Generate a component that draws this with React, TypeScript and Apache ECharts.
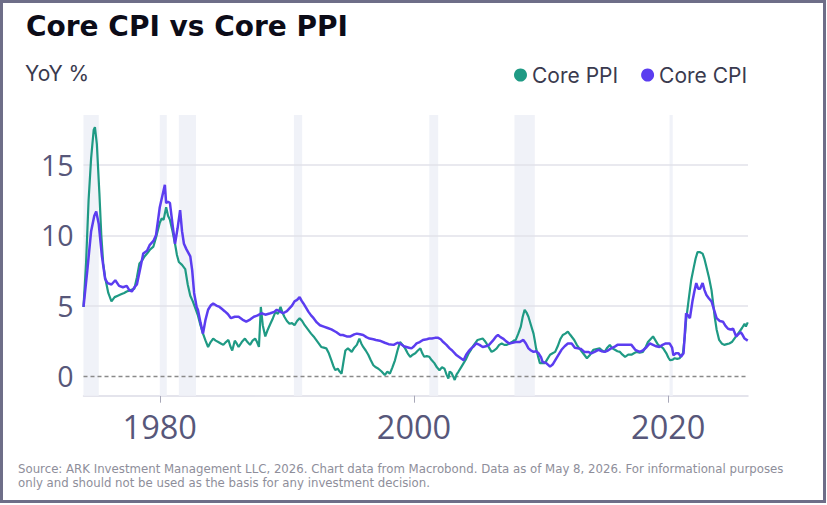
import React, { useEffect, useRef } from "react";
import * as echarts from "echarts";

const title = "Core CPI vs Core PPI";
const unitLabel = "YoY %";
const footLines = [
  "Source: ARK Investment Management LLC, 2026. Chart data from Macrobond. Data as of May 8, 2026. For informational purposes",
  "only and should not be used as the basis for any investment decision.",
];
const seriesNames = ["Core PPI", "Core CPI"];

const xTicks = [1980, 2000, 2020];
const yTicks = [0, 5, 10, 15];
const gridValues = [5, 10, 15];
const zeroValue = 0;

const recessionStarts = [1974.0, 1980.0, 1981.5, 1990.55, 2001.2, 2007.9, 2020.1];
const recessionEnds = [1975.2, 1980.55, 1982.85, 1991.2, 2001.9, 2009.5, 2020.35];

const ppiPoints: [number, number][] = [
  [1974.0, 4.9], [1974.2, 8.0], [1974.4, 12.5], [1974.6, 15.5], [1974.8, 17.5], [1974.9, 17.7],
  [1975.05, 16.5], [1975.25, 13.0], [1975.4, 10.0], [1975.55, 8.0], [1975.7, 7.0], [1975.95, 5.9],
  [1976.2, 5.3], [1976.45, 5.6], [1976.7, 5.7], [1976.95, 5.8], [1977.2, 5.9], [1977.4, 6.0],
  [1977.7, 6.1], [1978.0, 6.2], [1978.2, 7.0], [1978.4, 8.0], [1978.6, 8.2], [1978.8, 8.5],
  [1979.0, 8.7], [1979.25, 9.0], [1979.5, 9.2], [1979.75, 10.0], [1980.0, 10.9], [1980.15, 11.2],
  [1980.3, 11.1], [1980.5, 12.0], [1980.65, 11.4], [1980.8, 11.1], [1981.0, 10.3], [1981.2, 9.4],
  [1981.35, 8.6], [1981.5, 8.1], [1981.75, 7.9], [1982.0, 7.6], [1982.2, 6.5], [1982.4, 5.7],
  [1982.6, 5.3], [1982.8, 4.8], [1983.0, 4.3], [1983.2, 3.6], [1983.4, 3.0], [1983.6, 2.5],
  [1983.8, 2.05], [1984.0, 2.4], [1984.2, 2.65], [1984.4, 2.5], [1984.6, 2.4], [1984.8, 2.3],
  [1985.0, 2.2], [1985.2, 2.4], [1985.4, 2.55], [1985.55, 2.1], [1985.7, 1.8], [1985.9, 2.5],
  [1986.05, 2.3], [1986.2, 2.05], [1986.45, 2.4], [1986.7, 2.65], [1986.9, 2.4], [1987.1, 2.2],
  [1987.3, 2.5], [1987.5, 2.65], [1987.65, 2.4], [1987.8, 2.05], [1987.95, 4.9], [1988.1, 3.6],
  [1988.3, 2.8], [1988.5, 3.3], [1988.7, 3.7], [1988.9, 4.1], [1989.1, 4.55], [1989.3, 4.4],
  [1989.5, 4.9], [1989.65, 4.5], [1989.8, 4.2], [1990.0, 3.9], [1990.2, 3.7], [1990.4, 3.75],
  [1990.6, 3.6], [1990.8, 3.9], [1991.0, 4.1], [1991.2, 3.9], [1991.4, 3.6], [1991.65, 3.3],
  [1991.9, 3.0], [1992.1, 2.8], [1992.3, 2.55], [1992.5, 2.3], [1992.7, 2.05], [1992.9, 2.0],
  [1993.1, 1.95], [1993.3, 1.6], [1993.5, 1.1], [1993.65, 0.7], [1993.8, 0.4], [1994.0, 0.5],
  [1994.15, 0.3], [1994.3, 0.15], [1994.45, 1.0], [1994.6, 1.8], [1994.8, 1.95], [1995.1, 1.7],
  [1995.3, 2.0], [1995.5, 2.2], [1995.7, 2.65], [1995.85, 2.3], [1996.0, 2.05], [1996.2, 1.8],
  [1996.4, 1.5], [1996.6, 1.1], [1996.8, 0.75], [1997.0, 0.6], [1997.2, 0.5], [1997.45, 0.3],
  [1997.7, 0.05], [1997.9, 0.3], [1998.1, 0.15], [1998.3, 0.6], [1998.5, 1.1], [1998.7, 1.8],
  [1998.9, 2.4], [1999.1, 2.2], [1999.3, 1.95], [1999.5, 1.6], [1999.7, 1.35], [1999.9, 1.5],
  [2000.1, 1.6], [2000.3, 1.8], [2000.5, 1.95], [2000.65, 1.6], [2000.8, 1.35], [2001.0, 1.4],
  [2001.2, 1.35], [2001.4, 1.1], [2001.6, 0.9], [2001.8, 0.6], [2002.0, 0.4], [2002.2, 0.6],
  [2002.4, 0.5], [2002.55, 0.1], [2002.7, -0.2], [2002.8, 0.3], [2002.95, 0.2], [2003.1, -0.1],
  [2003.2, -0.3], [2003.35, 0.1], [2003.5, 0.3], [2003.7, 0.6], [2003.9, 0.9], [2004.1, 1.2],
  [2004.3, 1.6], [2004.45, 1.8], [2004.6, 2.05], [2004.8, 2.3], [2005.0, 2.55], [2005.2, 2.6],
  [2005.4, 2.65], [2005.55, 2.5], [2005.7, 2.3], [2005.9, 2.0], [2006.1, 1.7], [2006.3, 1.8],
  [2006.5, 1.95], [2006.7, 2.2], [2006.9, 2.3], [2007.1, 2.2], [2007.3, 2.2], [2007.5, 2.3],
  [2007.7, 2.4], [2007.85, 2.5], [2008.0, 2.55], [2008.2, 3.0], [2008.4, 3.5], [2008.55, 4.2],
  [2008.7, 4.7], [2008.85, 4.5], [2009.0, 4.2], [2009.2, 3.6], [2009.4, 3.0], [2009.5, 2.5],
  [2009.6, 1.95], [2009.75, 1.4], [2009.9, 0.9], [2010.1, 0.9], [2010.3, 0.9], [2010.5, 1.2],
  [2010.7, 1.5], [2010.9, 1.6], [2011.1, 1.7], [2011.3, 2.1], [2011.5, 2.6], [2011.7, 2.9],
  [2011.9, 3.0], [2012.1, 3.15], [2012.3, 2.9], [2012.6, 2.55], [2012.8, 2.2], [2013.0, 1.95],
  [2013.3, 1.6], [2013.6, 1.25], [2013.85, 1.5], [2014.1, 1.85], [2014.35, 1.9], [2014.6, 1.95],
  [2014.8, 1.8], [2015.0, 1.7], [2015.2, 2.0], [2015.4, 2.2], [2015.6, 1.95], [2015.8, 1.85],
  [2016.0, 1.75], [2016.2, 1.7], [2016.4, 1.5], [2016.6, 1.35], [2016.85, 1.5], [2017.1, 1.5],
  [2017.3, 1.6], [2017.5, 1.7], [2017.75, 1.65], [2018.0, 1.7], [2018.2, 2.0], [2018.4, 2.4],
  [2018.6, 2.6], [2018.8, 2.8], [2019.0, 2.5], [2019.2, 2.2], [2019.4, 2.1], [2019.6, 1.95],
  [2019.85, 1.6], [2020.0, 1.3], [2020.15, 1.1], [2020.35, 1.15], [2020.5, 1.25], [2020.7, 1.2],
  [2020.9, 1.25], [2021.15, 1.6], [2021.3, 2.8], [2021.4, 3.95], [2021.6, 5.4], [2021.8, 6.8],
  [2022.0, 7.7], [2022.15, 8.35], [2022.3, 8.8], [2022.5, 8.8], [2022.7, 8.7], [2022.85, 8.3],
  [2023.0, 7.75], [2023.2, 7.0], [2023.4, 6.1], [2023.55, 5.0], [2023.65, 4.2], [2023.8, 3.3],
  [2024.0, 2.55], [2024.2, 2.3], [2024.4, 2.2], [2024.6, 2.25], [2024.8, 2.3], [2025.0, 2.4],
  [2025.2, 2.65], [2025.4, 2.9], [2025.6, 3.15], [2025.8, 3.4], [2026.0, 3.7], [2026.1, 3.5],
  [2026.25, 3.8],
];

const cpiPoints: [number, number][] = [
  [1974.0, 4.9], [1974.3, 7.5], [1974.6, 10.3], [1974.85, 11.4], [1975.0, 11.7], [1975.2, 10.8],
  [1975.45, 8.5], [1975.7, 6.9], [1975.9, 6.6], [1976.2, 6.5], [1976.5, 6.8], [1976.8, 6.4],
  [1977.1, 6.3], [1977.4, 6.4], [1977.6, 6.1], [1977.8, 6.0], [1978.0, 6.3], [1978.2, 6.5],
  [1978.5, 7.8], [1978.7, 8.7], [1979.0, 8.9], [1979.2, 9.3], [1979.5, 9.6], [1979.7, 10.0],
  [1979.85, 11.0], [1980.0, 12.0], [1980.2, 12.8], [1980.4, 13.6], [1980.5, 12.3], [1980.65, 12.4],
  [1980.8, 12.3], [1981.0, 10.8], [1981.2, 9.4], [1981.4, 10.5], [1981.6, 11.8], [1981.75, 10.3],
  [1981.9, 9.4], [1982.1, 9.0], [1982.4, 8.5], [1982.55, 7.5], [1982.7, 5.9], [1982.9, 4.9],
  [1983.0, 4.7], [1983.2, 3.8], [1983.4, 3.0], [1983.6, 4.0], [1983.8, 4.7], [1984.0, 5.0],
  [1984.2, 5.15], [1984.45, 5.0], [1984.7, 4.9], [1984.9, 4.75], [1985.1, 4.6], [1985.35, 4.4],
  [1985.6, 4.1], [1985.9, 4.2], [1986.2, 4.2], [1986.5, 4.0], [1986.8, 3.85], [1987.1, 4.0],
  [1987.4, 4.2], [1987.7, 4.3], [1988.0, 4.45], [1988.3, 4.35], [1988.7, 4.45], [1989.0, 4.55],
  [1989.2, 4.7], [1989.5, 4.55], [1989.7, 4.45], [1990.0, 4.6], [1990.2, 4.8], [1990.4, 5.0],
  [1990.6, 5.3], [1990.8, 5.4], [1991.0, 5.6], [1991.15, 5.35], [1991.3, 5.15], [1991.5, 4.85],
  [1991.7, 4.55], [1991.9, 4.3], [1992.1, 4.1], [1992.35, 3.8], [1992.6, 3.6], [1992.9, 3.5],
  [1993.2, 3.4], [1993.5, 3.3], [1993.9, 3.1], [1994.2, 2.9], [1994.4, 2.9], [1994.7, 2.8],
  [1995.0, 2.8], [1995.3, 2.95], [1995.5, 3.0], [1995.75, 2.95], [1996.0, 2.9], [1996.25, 2.75],
  [1996.5, 2.65], [1996.8, 2.6], [1997.0, 2.55], [1997.3, 2.5], [1997.7, 2.35], [1998.0, 2.25],
  [1998.4, 2.2], [1998.7, 2.35], [1998.9, 2.3], [1999.2, 2.1], [1999.4, 2.05], [1999.6, 2.0],
  [1999.8, 1.95], [2000.0, 2.1], [2000.2, 2.3], [2000.45, 2.4], [2000.7, 2.55], [2001.0, 2.6],
  [2001.2, 2.65], [2001.4, 2.65], [2001.65, 2.7], [2001.9, 2.7], [2002.1, 2.6], [2002.3, 2.4],
  [2002.55, 2.2], [2002.8, 1.95], [2003.0, 1.8], [2003.3, 1.5], [2003.6, 1.3], [2003.9, 1.1],
  [2004.1, 1.5], [2004.3, 1.75], [2004.5, 1.95], [2004.7, 2.1], [2004.9, 2.3], [2005.15, 2.2],
  [2005.4, 2.05], [2005.65, 2.1], [2005.9, 2.2], [2006.2, 2.5], [2006.45, 2.8], [2006.6, 2.9],
  [2006.8, 2.75], [2007.0, 2.65], [2007.25, 2.45], [2007.5, 2.3], [2007.75, 2.35], [2008.0, 2.4],
  [2008.3, 2.4], [2008.6, 2.55], [2008.8, 2.3], [2009.0, 1.95], [2009.2, 1.8], [2009.4, 1.7],
  [2009.6, 1.75], [2009.8, 1.6], [2010.0, 1.3], [2010.1, 1.0], [2010.4, 0.9], [2010.7, 0.65],
  [2010.9, 0.8], [2011.1, 1.1], [2011.3, 1.4], [2011.6, 1.85], [2011.85, 2.1], [2012.1, 2.3],
  [2012.4, 2.3], [2012.65, 2.0], [2012.9, 1.95], [2013.15, 1.9], [2013.4, 1.7], [2013.7, 1.7],
  [2013.95, 1.6], [2014.2, 1.7], [2014.5, 1.85], [2014.75, 1.75], [2015.0, 1.7], [2015.25, 1.8],
  [2015.5, 1.95], [2015.75, 2.05], [2016.0, 2.2], [2016.3, 2.2], [2016.6, 2.2], [2016.85, 2.2],
  [2017.1, 2.2], [2017.4, 1.85], [2017.75, 1.7], [2018.0, 1.8], [2018.3, 2.05], [2018.55, 2.3],
  [2018.8, 2.2], [2019.05, 2.1], [2019.3, 2.05], [2019.55, 2.2], [2019.8, 2.3], [2020.1, 2.3],
  [2020.3, 2.0], [2020.4, 1.45], [2020.6, 1.6], [2020.8, 1.6], [2021.0, 1.35], [2021.2, 1.6],
  [2021.3, 3.0], [2021.4, 4.45], [2021.55, 4.3], [2021.7, 4.1], [2021.9, 5.3], [2022.05, 6.0],
  [2022.2, 6.6], [2022.35, 6.2], [2022.5, 6.2], [2022.7, 6.6], [2022.85, 6.1], [2023.0, 5.75],
  [2023.2, 5.5], [2023.4, 5.3], [2023.6, 4.7], [2023.8, 4.1], [2024.05, 3.9], [2024.3, 3.85],
  [2024.5, 3.55], [2024.7, 3.35], [2024.9, 3.3], [2025.1, 3.35], [2025.25, 3.0], [2025.35, 2.8],
  [2025.55, 3.0], [2025.7, 3.1], [2025.85, 2.9], [2026.0, 2.65], [2026.25, 2.5],
];

const TEAL = "#1f9a84";
const PURPLE = "#5b3df0";
const LABEL = "#57577a";

export default function App() {
  const ref = useRef<HTMLDivElement>(null);

  useEffect(() => {
    if (!ref.current) return;
    const chart = echarts.init(ref.current, undefined, { renderer: "svg" });
    const option: any = {
      animation: false,
      backgroundColor: "#ffffff",
      grid: { left: 83.5, right: 79, top: 115, bottom: 109.3, outerBoundsMode: "none" },
      xAxis: {
        type: "value",
        min: 1974,
        max: 2026.27,
        axisLine: { show: true, onZero: false, lineStyle: { color: "#dcdce6", width: 1.5 } },
        axisTick: { show: true, customValues: xTicks, length: 7, lineStyle: { color: "#a8a8b8", width: 1 } },
        axisLabel: {
          customValues: xTicks,
          formatter: (v: number) => String(v),
          fontSize: 32.5,
          fontFamily: "Open Sans",
          fontWeight: 500,
          color: LABEL,
          margin: 14,
        },
        splitLine: { show: false },
      },
      yAxis: {
        type: "value",
        min: -1.42,
        max: 18.57,
        axisLine: { show: false },
        axisTick: { show: false },
        axisLabel: {
          customValues: yTicks,
          formatter: (v: number) => String(v),
          fontSize: 28.5,
          fontFamily: "Open Sans",
          fontWeight: 500,
          color: LABEL,
          margin: 10,
        },
        splitLine: { show: false },
      },
      legend: {
        data: seriesNames,
        icon: "circle",
        itemWidth: 13,
        itemHeight: 13,
        itemGap: 23,
        left: 509,
        top: 59,
        textStyle: { fontSize: 21, fontFamily: "Inter", color: "#3a3a4e", lineHeight: 22 },
      },
      graphic: [
        {
          type: "text",
          x: 26,
          y: 26.7,
          style: {
            text: title,
            fontSize: 28,
            fontWeight: "bold",
            fontFamily: "DejaVu Sans",
            fill: "#0c0c18",
            verticalAlign: "middle",
            align: "left",
          },
        },
        {
          type: "text",
          x: 25,
          y: 73.3,
          style: {
            text: unitLabel,
            fontSize: 21,
            fontFamily: "Inter",
            fill: "#3a3a4e",
            verticalAlign: "middle",
            align: "left",
          },
        },
        {
          type: "text",
          x: 18,
          y: 469,
          style: { text: footLines[0], fontSize: 11.75, fontFamily: "DejaVu Sans", fill: "#8e8e9a", verticalAlign: "middle" },
        },
        {
          type: "text",
          x: 18,
          y: 483,
          style: { text: footLines[1], fontSize: 11.75, fontFamily: "DejaVu Sans", fill: "#8e8e9a", verticalAlign: "middle" },
        },
        {
          type: "rect",
          shape: { x: 1.5, y: 1.5, width: 823, height: 500 },
          style: { fill: "none", stroke: "#6e6e88", lineWidth: 3 },
          silent: true,
        },
      ],
      series: [
        {
          type: "line",
          name: "bands",
          data: [],
          z: 1,
          silent: true,
          markArea: {
            silent: true,
            z: 1,
            itemStyle: { color: "#f0f2f8" },
            data: recessionStarts.map((s, i) => [{ xAxis: s }, { xAxis: recessionEnds[i] }]),
          },
          markLine: {
            silent: true,
            z: 1,
            symbol: ["none", "none"],
            label: { show: false },
            data: [
              ...gridValues.map((v) => ({ yAxis: v, lineStyle: { color: "#e2e2ea", width: 1.5, type: "solid" } })),
              { yAxis: zeroValue, lineStyle: { color: "#8a8a8a", width: 1.3, type: [4, 3] } },
            ],
          },
        },
        {
          type: "line",
          name: seriesNames[0],
          data: ppiPoints,
          showSymbol: false,
          symbol: "none",
          z: 10,
          color: TEAL,
          lineStyle: { color: TEAL, width: 2.2 },
        },
        {
          type: "line",
          name: seriesNames[1],
          data: cpiPoints,
          showSymbol: false,
          symbol: "none",
          z: 11,
          color: PURPLE,
          lineStyle: { color: PURPLE, width: 2.5 },
        },
      ],
    };
    chart.setOption(option);
    return () => chart.dispose();
  }, []);

  return (
    <div style={{ position: "fixed", left: 0, top: 0, width: 827, height: 505, background: "#fff" }}>
      <div ref={ref} style={{ width: 827, height: 505 }} />
    </div>
  );
}
